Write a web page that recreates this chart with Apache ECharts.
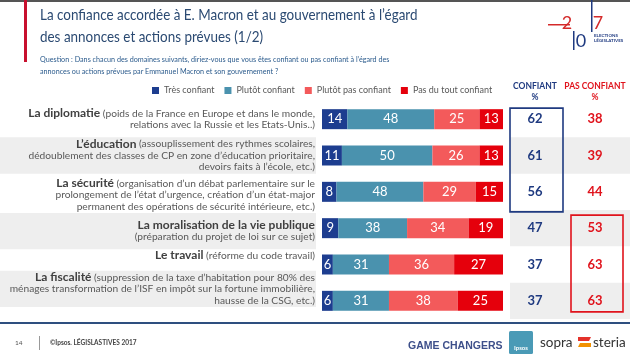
<!DOCTYPE html>
<html><head><meta charset="utf-8">
<script src="https://cdn.jsdelivr.net/npm/echarts@6/dist/echarts.min.js"></script>
<style>html,body{margin:0;padding:0;background:#fff}#c{width:630px;height:356px}</style>
</head><body><div id="c"></div>
<script>
// ---- data ----
const categories = ['La diplomatie', 'L\u2019éducation', 'La sécurité', 'La moralisation de la vie publique', 'Le travail', 'La fiscalité'];
const categoryNotes = [
  ['(poids de la France en Europe et dans le monde,', 'relations avec la Russie et les Etats-Unis..)'],
  ['(assouplissement des rythmes scolaires,', 'dédoublement des classes de CP en zone d\u2019éducation prioritaire,', 'devoirs faits à l\u2019école, etc.)'],
  ['(organisation d\u2019un débat parlementaire sur le', 'prolongement de l\u2019état d\u2019urgence, création d\u2019un état-major', 'permanent des opérations de sécurité intérieure, etc.)'],
  ['', '(préparation du projet de loi sur ce sujet)'],
  ['(réforme du code travail)'],
  ['(suppression de la taxe d\u2019habitation pour 80% des', 'ménages transformation de l\u2019ISF en impôt sur la fortune immobilière,', 'hausse de la CSG, etc.)']
];
const seriesNames = ['Très confiant', 'Plutôt confiant', 'Plutôt pas confiant', 'Pas du tout confiant'];
const tresConfiant = [14, 11, 8, 9, 6, 6];
const plutotConfiant = [48, 50, 48, 38, 31, 31];
const plutotPasConfiant = [25, 26, 29, 34, 36, 38];
const pasDuToutConfiant = [13, 13, 15, 19, 27, 25];
const confiantTotal = [62, 61, 56, 47, 37, 37];
const pasConfiantTotal = [38, 39, 44, 53, 63, 63];
const columnHeaders = ['CONFIANT', 'PAS CONFIANT'];
const columnUnit = '%';
const titleLines = ['La confiance accordée à E. Macron et au gouvernement à l\u2019égard', 'des annonces et actions prévues (1/2)'];
const questionLines = ['Question : Dans chacun des domaines suivants, diriez-vous que vous êtes confiant ou pas confiant à l\u2019égard des', 'annonces ou actions prévues par Emmanuel Macron et son gouvernement ?'];
const footerPage = '14';
const footerSource = '©Ipsos. LÉGISLASTIVES 2017';

// ---- styles ----
const F = 'Lato, "Open Sans", sans-serif';
const colors = ['#1d3d8f', '#4a92ae', '#f35a5b', '#e5000c'];
const navy = '#1f3a80', red = '#e0131c', band = '#eeeeee';
const shadedRows = [1, 3, 5];
const labelShift = [0, 0, 3, 3, -9, -12];
const colX = [535, 595];

const chart = echarts.init(document.getElementById('c'), null, {renderer: 'canvas'});

const barSeries = [tresConfiant, plutotConfiant, plutotPasConfiant, pasDuToutConfiant].map((d, k) => ({
  name: seriesNames[k], type: 'bar', stack: 'total', barWidth: 20, data: d,
  itemStyle: {color: colors[k]},
  label: {show: true, position: 'inside', color: '#fff', fontSize: 13, fontFamily: F},
  z: 3
}));

function labelFmt(value, index) {
  const notes = categoryNotes[index];
  let s = '{b|' + value + '}';
  if (notes[0]) s += '{n| ' + notes[0] + '}';
  for (let i = 1; i < notes.length; i++) s += '\n{n|' + notes[i] + '}';
  return s;
}

const yData = categories.map((c, i) => {
  const s = labelShift[i];
  return {value: c, textStyle: {padding: s >= 0 ? [2 * s, 0, 0, 0] : [0, 0, -2 * s, 0]}};
});

const option = {
  animation: false,
  backgroundColor: '#fff',
  legend: {
    data: seriesNames, left: 147, top: 81, icon: 'rect', itemWidth: 7, itemHeight: 7, itemGap: 10,
    textStyle: {fontSize: 9, color: '#595959', fontFamily: F}, selectedMode: false
  },
  grid: {left: 322, right: 127, top: 101, height: 218},
  xAxis: {type: 'value', min: 0, max: 100, show: false},
  yAxis: {
    type: 'category', data: yData, inverse: true, z: 6,
    axisLine: {show: false}, axisTick: {show: false},
    axisLabel: {
      interval: 0, margin: 7, formatter: labelFmt,
      rich: {
        b: {fontFamily: F, fontWeight: 'bold', fontSize: 12, color: '#404040', lineHeight: 11.5},
        n: {fontFamily: F, fontSize: 10.2, color: '#595959', lineHeight: 11.5}
      }
    }
  },
  series: [
    {
      type: 'custom', z: 0, silent: true,
      data: categories.map((c, i) => [0, i]), encode: {x: 0, y: 1},
      renderItem: function (params, api) {
        const i = params.dataIndex;
        if (shadedRows.indexOf(i) < 0) return;
        const y = api.coord([0, i])[1], h = api.size([0, 1])[1];
        const yl = y + labelShift[i];
        return {type: 'group', children: [
          {type: 'rect', shape: {x: 0, y: yl - h / 2, width: 316, height: h}, style: {fill: band}},
          {type: 'rect', shape: {x: 510, y: y - h / 2, width: 120, height: h}, style: {fill: band}}
        ]};
      }
    },
    ...barSeries,
    {
      type: 'custom', z: 4, silent: true,
      data: categories.map((c, i) => [confiantTotal[i], i]), encode: {x: 0, y: 1},
      renderItem: function (params, api) {
        const i = params.dataIndex;
        const y = api.coord([0, i])[1];
        const ch = [
          {type: 'text', x: colX[0], y: y, style: {text: String(confiantTotal[i]), fill: navy, font: 'bold 13px ' + F, align: 'center', verticalAlign: 'middle'}},
          {type: 'text', x: colX[1], y: y, style: {text: String(pasConfiantTotal[i]), fill: red, font: 'bold 13px ' + F, align: 'center', verticalAlign: 'middle'}}
        ];
        if (i === 0) {
          const yb = api.coord([0, 2])[1];
          ch.push({type: 'rect', shape: {x: 510, y: y - 11, width: 53, height: yb - y + 31}, style: {fill: 'none', stroke: navy, lineWidth: 1.6}});
        }
        if (i === 3) {
          const yb = api.coord([0, 5])[1];
          ch.push({type: 'rect', shape: {x: 571, y: y - 13, width: 52, height: yb - y + 24}, style: {fill: 'none', stroke: red, lineWidth: 1.6}});
        }
        return {type: 'group', children: ch};
      }
    }
  ],
  graphic: [
    {type: 'rect', shape: {x: 0, y: 0, width: 630, height: 2}, style: {fill: '#555'}},
    {type: 'rect', shape: {x: 24, y: 0, width: 3, height: 62}, style: {fill: '#c8102e'}},
    {type: 'text', x: 40, y: 15, scaleX: 0.84, style: {text: titleLines[0], font: '16px ' + F, fill: '#2b4a72', verticalAlign: 'middle'}},
    {type: 'text', x: 40, y: 37, scaleX: 0.84, style: {text: titleLines[1], font: '16px ' + F, fill: '#2b4a72', verticalAlign: 'middle'}},
    {type: 'text', x: 40, y: 59, scaleX: 0.9, style: {text: questionLines[0], font: '8px ' + F, fill: '#2a5a8c', verticalAlign: 'middle'}},
    {type: 'text', x: 40, y: 71, scaleX: 0.9, style: {text: questionLines[1], font: '8px ' + F, fill: '#2a5a8c', verticalAlign: 'middle'}},
    {type: 'text', x: colX[0], y: 86, style: {text: columnHeaders[0], font: 'bold 8.5px ' + F, fill: navy, align: 'center', verticalAlign: 'middle'}},
    {type: 'text', x: colX[0], y: 97, style: {text: columnUnit, font: 'bold 8.5px ' + F, fill: navy, align: 'center', verticalAlign: 'middle'}},
    {type: 'text', x: colX[1], y: 86, style: {text: columnHeaders[1], font: 'bold 8.5px ' + F, fill: red, align: 'center', verticalAlign: 'middle'}},
    {type: 'text', x: colX[1], y: 97, style: {text: columnUnit, font: 'bold 8.5px ' + F, fill: red, align: 'center', verticalAlign: 'middle'}},
    // 2017 logo
    {type: 'rect', shape: {x: 548, y: 24, width: 22, height: 1.5}, style: {fill: '#d42a2a'}},
    {type: 'text', x: 567, y: 23, style: {text: '2', font: '18px ' + F, fill: '#d42a2a', align: 'center', verticalAlign: 'middle'}},
    {type: 'rect', shape: {x: 573, y: 31, width: 1.5, height: 19}, style: {fill: '#1f3a80'}},
    {type: 'text', x: 581, y: 41, style: {text: '0', font: '18px ' + F, fill: '#1f3a80', align: 'center', verticalAlign: 'middle'}},
    {type: 'rect', shape: {x: 591, y: 0, width: 1.5, height: 32}, style: {fill: '#1f3a80'}},
    {type: 'text', x: 598, y: 23, style: {text: '7', font: '18px ' + F, fill: '#d42a2a', align: 'center', verticalAlign: 'middle'}},
    {type: 'text', x: 594, y: 36, style: {text: 'ELECTIONS', font: 'bold 4.5px ' + F, fill: '#1f3a80', verticalAlign: 'middle'}},
    {type: 'text', x: 594, y: 41, style: {text: 'LÉGISLATIVES', font: 'bold 4.5px ' + F, fill: '#1f3a80', verticalAlign: 'middle'}},
    // footer
    {type: 'rect', shape: {x: 0, y: 322, width: 630, height: 2}, style: {fill: '#2e4f7f'}},
    {type: 'text', x: 15, y: 343, style: {text: footerPage, font: '6.5px ' + F, fill: '#555', verticalAlign: 'middle'}},
    {type: 'rect', shape: {x: 39, y: 336, width: 1, height: 14}, style: {fill: '#999'}},
    {type: 'text', x: 50, y: 343, style: {text: footerSource, font: 'bold 6.5px ' + F, fill: '#444', verticalAlign: 'middle'}},
    {type: 'text', x: 408, y: 346, style: {text: 'GAME CHANGERS', font: 'bold 10.5px "Liberation Sans", Arial, sans-serif', fill: '#3d4f8a', verticalAlign: 'middle'}},
    {type: 'rect', shape: {x: 509, y: 331, width: 24, height: 23, r: 1.5}, style: {fill: '#4a9ab6'}},
    {type: 'text', x: 521, y: 348, style: {text: 'Ipsos', font: 'bold 6px ' + F, fill: '#fff', align: 'center', verticalAlign: 'middle'}},
    {type: 'text', x: 540, y: 343, style: {text: 'sopra', font: '13.5px ' + F, fill: '#333', verticalAlign: 'middle'}},
    {type: 'polygon', shape: {points: [[578, 337], [591, 337], [589, 341], [578, 341]]}, style: {fill: '#e4322b'}},
    {type: 'polygon', shape: {points: [[580, 343], [591, 343], [591, 347], [578, 347]]}, style: {fill: '#f29100'}},
    {type: 'text', x: 593, y: 343, style: {text: 'steria', font: '13.5px ' + F, fill: '#333', verticalAlign: 'middle'}}
  ]
};
chart.setOption(option);
</script></body></html>
